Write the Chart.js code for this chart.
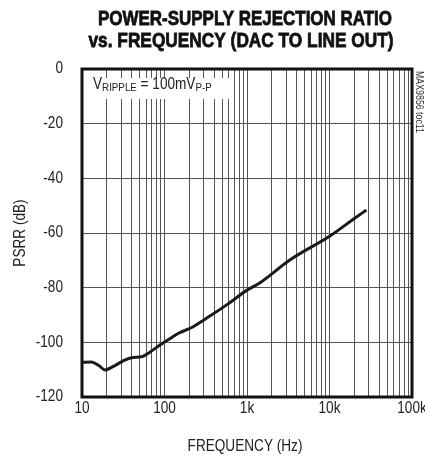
<!DOCTYPE html>
<html><head><meta charset="utf-8">
<script src="https://cdn.jsdelivr.net/npm/chart.js@4"></script>
<style>html,body{margin:0;padding:0;background:#fff}#wrap{width:425px;height:459px}</style>
</head><body><div id="wrap"><canvas id="c" width="425" height="459"></canvas></div>
<script>
const titleLines = ["POWER-SUPPLY REJECTION RATIO", "vs. FREQUENCY (DAC TO LINE OUT)"];
const xTitle = "FREQUENCY (Hz)";
const yTitle = "PSRR (dB)";
const sideNote = "MAX9856 toc11";
const freqs = [10, 13, 16, 19, 24, 32, 40, 53, 67, 88, 117, 150, 223, 300, 567, 1000, 1438, 3300, 10000, 20000, 28000];
const psrr = [-107.3, -107.2, -108.5, -110.1, -108.8, -106.7, -105.6, -105.3, -103.5, -101, -98.6, -96.6, -94.3, -91.8, -86.3, -80.9, -78.2, -69.9, -61.2, -54.7, -51.6];
const xTickValues = [10, 100, 1000, 10000, 100000];
const xTickLabels = ["10", "100", "1k", "10k", "100k"];
const yTicks = [0, -20, -40, -60, -80, -100, -120];

const FONT = '"Liberation Sans", Arial, sans-serif';

function txt(ctx, s, x, y, font, sx, align, base, stroke) {
  ctx.save();
  ctx.font = font;
  ctx.textAlign = align || 'center';
  ctx.textBaseline = base || 'middle';
  ctx.translate(x, y);
  ctx.scale(sx, 1);
  ctx.fillText(s, 0, 0);
  if (stroke) { ctx.lineWidth = stroke; ctx.strokeStyle = ctx.fillStyle; ctx.strokeText(s, 0, 0); }
  ctx.restore();
}

const deco = {
  id: 'deco',
  beforeDatasetsDraw(chart) {
    const ctx = chart.ctx, a = chart.chartArea;
    ctx.save();
    ctx.fillStyle = '#fff';
    ctx.fillRect(a.left + 6, a.top + 9, 146, 21);
    ctx.restore();
  },
  afterDraw(chart) {
    const ctx = chart.ctx, a = chart.chartArea;
    const xs = chart.scales.x, ys = chart.scales.y;
    ctx.save();
    ctx.strokeStyle = '#111';
    ctx.lineWidth = 3;
    ctx.strokeRect(a.left, a.top, a.right - a.left, a.bottom - a.top);
    // title
    ctx.fillStyle = '#111';
    const tf = 'bold 21px ' + FONT;
    ctx.font = tf;
    const w1 = ctx.measureText(titleLines[0]).width;
    const w2 = ctx.measureText(titleLines[1]).width;
    txt(ctx, titleLines[0], 245, 25, tf, 294 / w1, 'center', 'alphabetic', 0.8);
    txt(ctx, titleLines[1], 241, 46.5, tf, 305 / w2, 'center', 'alphabetic', 0.8);
    // tick labels
    ctx.fillStyle = '#222';
    const lf = '16px ' + FONT;
    xTickValues.forEach((v, i) => txt(ctx, xTickLabels[i], xs.getPixelForValue(v), 409, lf, 0.85));
    yTicks.forEach(v => txt(ctx, String(v), 63, ys.getPixelForValue(v), lf, 0.85, 'right'));
    // axis titles
    txt(ctx, xTitle, 245, 447, lf, 0.85);
    ctx.save();
    ctx.translate(21, (a.top + a.bottom) / 2);
    ctx.rotate(-Math.PI / 2);
    txt(ctx, yTitle, 0, 0, lf, 0.85);
    ctx.restore();
    // side note
    ctx.save();
    ctx.translate(419, 102);
    ctx.rotate(Math.PI / 2);
    ctx.fillStyle = '#333';
    txt(ctx, sideNote, 0, 0, '11px ' + FONT, 0.8);
    ctx.restore();
    // annotation
    let x = a.left + 11, y = a.top + 20;
    const big = '16px ' + FONT, small = '11.5px ' + FONT, sx = 0.85;
    const parts = [["V", big, 0], ["RIPPLE", small, 1.5], [" = 100mV", big, 0], ["P-P", small, 1.5]];
    for (const [t, f, dy] of parts) {
      ctx.font = f;
      txt(ctx, t, x, y + dy, f, sx, 'left', 'alphabetic');
      x += ctx.measureText(t).width * sx;
    }
    ctx.restore();
  }
};

new Chart(document.getElementById('c'), {
  type: 'line',
  data: {
    datasets: [{
      data: freqs.map((f, i) => ({x: f, y: psrr[i]})),
      borderColor: '#1a1a1a',
      borderWidth: 3,
      pointRadius: 0,
      cubicInterpolationMode: 'monotone',
      fill: false
    }]
  },
  options: {
    responsive: false,
    animation: false,
    events: [],
    layout: {padding: {top: 69, right: 13, left: 0, bottom: 0}},
    plugins: {legend: {display: false}, tooltip: {enabled: false}},
    scales: {
      x: {
        type: 'logarithmic',
        min: 10, max: 100000,
        afterFit(s) { s.height = 62; },
        afterBuildTicks(s) {
          const t = [];
          for (let d = 10; d < 100000; d *= 10) for (let m = 1; m < 10; m++) t.push({value: d * m});
          t.push({value: 100000});
          s.ticks = t;
        },
        grid: {color: '#555', lineWidth: 1, drawTicks: false},
        border: {display: false},
        ticks: {display: false, autoSkip: false}
      },
      y: {
        min: -120, max: 0,
        afterFit(s) { s.width = 82; },
        afterBuildTicks(s) { s.ticks = yTicks.map(v => ({value: v})); },
        grid: {color: '#555', lineWidth: 1, drawTicks: false},
        border: {display: false},
        ticks: {display: false}
      }
    }
  },
  plugins: [deco]
});
</script>
</body></html>
